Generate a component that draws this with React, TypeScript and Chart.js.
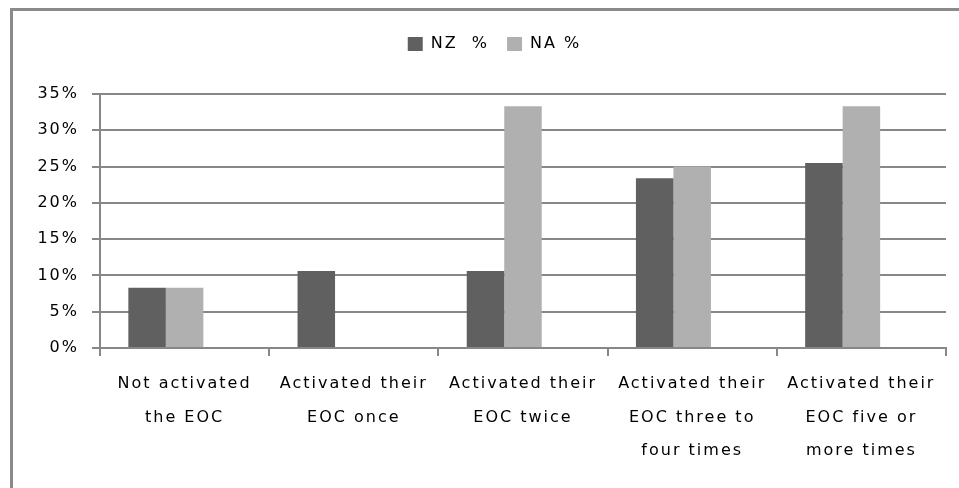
import React, { useEffect, useRef } from "react";
import { Chart, registerables } from "chart.js";

Chart.register(...registerables);

const categories: string[][] = [
  ["Not activated", "the EOC"],
  ["Activated their", "EOC once"],
  ["Activated their", "EOC twice"],
  ["Activated their", "EOC three to", "four times"],
  ["Activated their", "EOC five or", "more times"],
];
const nzPercent: number[] = [8.3, 10.6, 10.6, 23.4, 25.5];
const naPercent: number[] = [8.3, 0, 33.3, 25, 33.3];
// third, empty series slot in each category (keeps the bar pairs left of centre)
const blankSeries: (number | null)[] = [null, null, null, null, null];
const seriesLabels: string[] = ["NZ  %", "NA %", ""];
const yTickValues: number[] = [0, 5, 10, 15, 20, 25, 30, 35];

const FONT = "'DejaVu Sans', sans-serif";
const GRID = "#878787";
const LETTER_SPACING = "2px";

// wider tracking for all chart text
const textTracking = {
  id: "textTracking",
  beforeUpdate(chart: any) {
    chart.ctx.letterSpacing = LETTER_SPACING;
  },
  beforeDraw(chart: any) {
    chart.ctx.letterSpacing = LETTER_SPACING;
  },
};

// extra room below the legend row, and the legend centred over the frame
const legendPlacement = {
  id: "legendPlacement",
  beforeInit(chart: any) {
    const legend = chart.legend;
    if (!legend) return;
    const fit = legend.fit;
    legend.fit = function (this: any) {
      fit.call(this);
      this.height += 32;
    };
  },
  afterLayout(chart: any) {
    const legend = chart.legend;
    if (legend) legend.left = 43;
  },
};

export default function App() {
  const canvasRef = useRef<HTMLCanvasElement | null>(null);

  useEffect(() => {
    document.body.style.margin = "0";
    const canvas = canvasRef.current;
    if (!canvas) return;
    const barOpts = { categoryPercentage: 0.665, barPercentage: 1 };
    const chart = new Chart(canvas, {
      type: "bar",
      data: {
        labels: categories,
        datasets: [
          { label: seriesLabels[0], data: nzPercent, backgroundColor: "#606060", ...barOpts },
          { label: seriesLabels[1], data: naPercent, backgroundColor: "#b0b0b0", ...barOpts },
          { label: seriesLabels[2], data: blankSeries, backgroundColor: "#ffffff", ...barOpts },
        ],
      },
      options: {
        responsive: false,
        animation: false,
        devicePixelRatio: 1,
        layout: { padding: { left: 0, right: 13, top: 18, bottom: 0 } },
        plugins: {
          tooltip: { enabled: false },
          legend: {
            display: true,
            position: "top",
            labels: {
              color: "#000",
              font: { family: FONT, size: 16 },
              boxWidth: 15,
              boxHeight: 14,
              padding: 18,
              filter: (item: any) => item.text !== "",
            },
          },
        },
        scales: {
          x: {
            grid: {
              display: true,
              drawOnChartArea: false,
              drawTicks: true,
              offset: true,
              tickLength: 8,
              color: GRID,
              lineWidth: 2,
            },
            border: { display: true, color: GRID, width: 2 },
            ticks: {
              color: "#000",
              font: { family: FONT, size: 16, lineHeight: 2.1 },
              padding: 11,
              maxRotation: 0,
              autoSkip: false,
            },
            afterFit: (scale: any) => {
              scale.height = 140;
            },
          },
          y: {
            min: 0,
            max: 35,
            afterBuildTicks: (scale: any) => {
              scale.ticks = yTickValues.map((v) => ({ value: v }));
            },
            grid: {
              color: GRID,
              lineWidth: 2,
              drawTicks: true,
              tickLength: 8,
            },
            border: { display: true, color: GRID, width: 2 },
            ticks: {
              color: "#000",
              font: { family: FONT, size: 16 },
              padding: 13,
              callback: (v: any) => `${v}%`,
            },
            afterFit: (scale: any) => {
              scale.width = 100;
            },
          },
        },
      },
      plugins: [textTracking, legendPlacement],
    });
    return () => chart.destroy();
  }, []);

  return (
    <div
      style={{
        position: "relative",
        width: 959,
        height: 488,
        overflow: "hidden",
        background: "#fff",
      }}
    >
      <div
        style={{
          position: "absolute",
          left: 10,
          top: 8,
          width: 1200,
          height: 1200,
          borderTop: "3px solid #8a8a8a",
          borderLeft: "3px solid #8a8a8a",
          boxSizing: "border-box",
        }}
      />
      <canvas
        ref={canvasRef}
        width={959}
        height={488}
        style={{ position: "absolute", left: 0, top: 0 }}
      />
    </div>
  );
}
